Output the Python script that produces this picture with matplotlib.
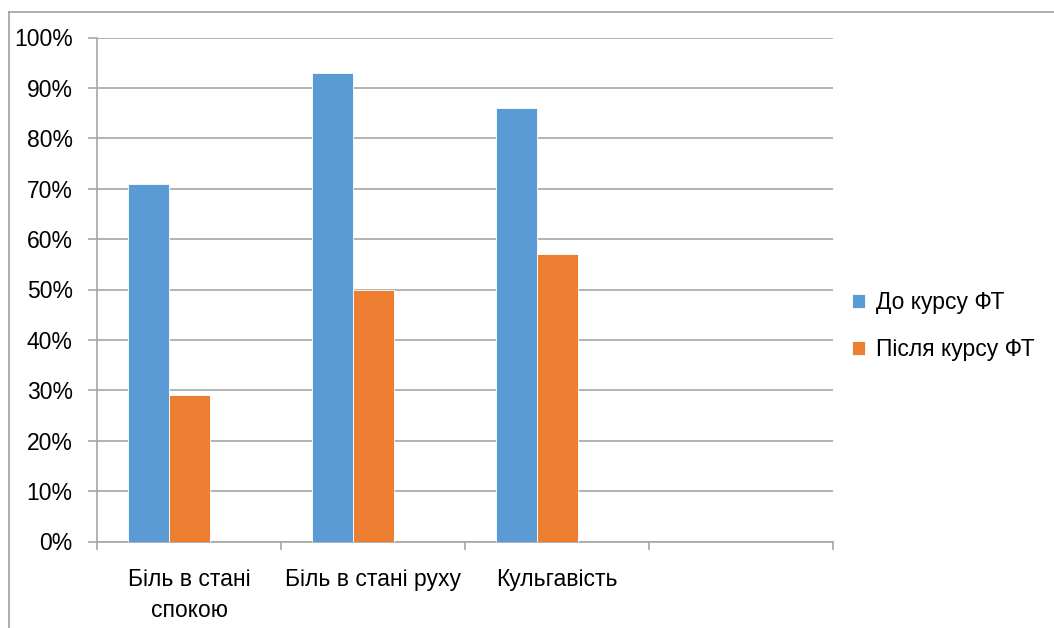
import matplotlib
matplotlib.use("Agg")
import matplotlib.pyplot as plt
from matplotlib.lines import Line2D
import numpy as np

categories = ["Біль в стані\nспокою", "Біль в стані руху", "Кульгавість", ""]
before = [71, 93, 86, None]
after = [29, 50, 57, None]
series_names = ["До курсу ФТ", "Після курсу ФТ"]
yticks = [0, 10, 20, 30, 40, 50, 60, 70, 80, 90, 100]

plt.rcParams['font.family'] = ['Liberation Sans', 'DejaVu Sans']
FS = 16.5

W, H = 1054, 628
fig = plt.figure(figsize=(W/100, H/100), dpi=100)
ax = fig.add_axes([97/W, (H-541.5)/H, (833-97)/W, 504/H])

blue = "#5B9BD5"
orange = "#ED7D31"
grid = "#A6A6A6"
bw = 41/184

x = np.arange(len(categories))
bx = [i for i, v in enumerate(before) if v is not None]
bv = [v for v in before if v is not None]
ax_ = [i for i, v in enumerate(after) if v is not None]
av = [v for v in after if v is not None]
# slots laid out as for three series (third one empty), as in the source chart
ax.bar(np.array(bx) - bw, bv, width=bw, color=blue, edgecolor="white", linewidth=0.6, label=series_names[0], zorder=3)
ax.bar(np.array(ax_), av, width=bw, color=orange, edgecolor="white", linewidth=0.6, label=series_names[1], zorder=3)

ax.set_xlim(-0.5, len(categories) - 0.5)
ax.set_ylim(0, 100)
ax.set_yticks(yticks)
ax.set_yticklabels([f"{t}%" for t in yticks], fontsize=FS)
ax.yaxis.grid(True, color=grid, linewidth=1.2, zorder=0)
ax.tick_params(axis='y', length=6.5, width=1.2, color=grid, pad=11)

ax.set_xticks(x)
ax.set_xticklabels(categories, fontsize=FS, linespacing=1.45)
ax.set_xticks(np.arange(-0.5, len(categories)), minor=True)
ax.tick_params(axis='x', which='major', length=0, pad=19)
ax.tick_params(axis='x', which='minor', length=6, width=1.2, color=grid)

for s in ["top", "right"]:
    ax.spines[s].set_visible(False)
for s in ["left", "bottom"]:
    ax.spines[s].set_color(grid)
    ax.spines[s].set_linewidth(1.2)

leg = fig.legend(loc="upper left", bbox_to_anchor=(843/W, 1 - 282/H), frameon=False,
                 fontsize=FS, handlelength=0.55, handleheight=0.55, handletextpad=0.5,
                 labelspacing=1.05, borderaxespad=0)

fig.add_artist(Line2D([8.5/W, 8.5/W], [0, 1 - 12/H], color="#A0A0A0", linewidth=1.2, transform=fig.transFigure))
fig.add_artist(Line2D([8.5/W, 1], [1 - 12/H, 1 - 12/H], color="#A0A0A0", linewidth=1.2, transform=fig.transFigure))

fig.savefig("out.png", dpi=100)
